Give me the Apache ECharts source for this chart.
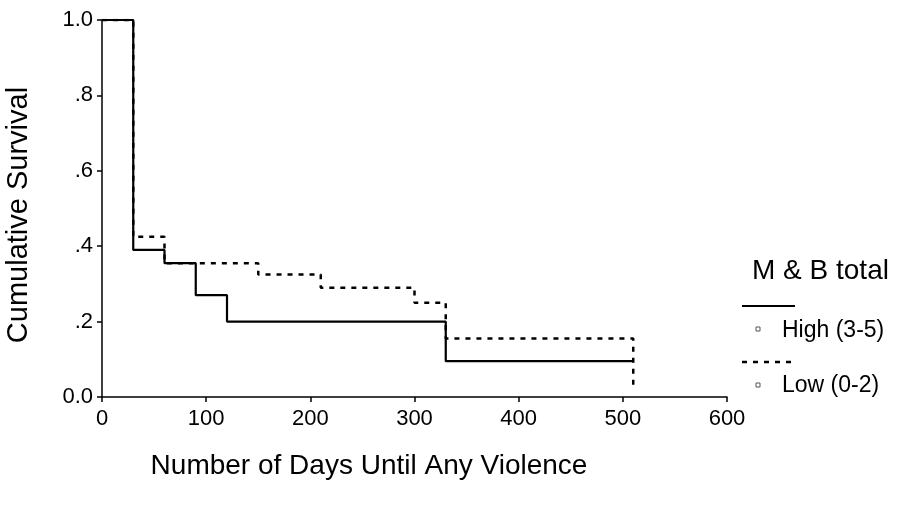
<!DOCTYPE html>
<html><head><meta charset="utf-8">
<script src="https://cdn.jsdelivr.net/npm/echarts@6/dist/echarts.min.js"></script>
<style>html,body{margin:0;padding:0;background:#fff}#c{width:899px;height:509px}</style>
</head><body><div id="c"></div>
<script>
// Kaplan-Meier step points [day, survival]
const highDays = [0, 30, 60, 90, 120, 330, 510];
const highSurv = [1.0, 0.39, 0.355, 0.27, 0.20, 0.095, 0.095];
const lowDays = [0, 30, 60, 150, 210, 300, 330, 510];
const lowSurv = [1.0, 0.425, 0.355, 0.325, 0.29, 0.25, 0.155, 0.025];
const xTicks = [0, 100, 200, 300, 400, 500, 600];
const yTickLabels = {0: '0.0', 0.2: '.2', 0.4: '.4', 0.6: '.6', 0.8: '.8', 1: '1.0'};
const legendTitle = 'M & B total';
const seriesNames = ['High (3-5)', 'Low (0-2)'];

const font = 'Liberation Sans';
const chart = echarts.init(document.getElementById('c'));
chart.setOption({
  animation: false,
  backgroundColor: '#fff',
  grid: {left: 102, right: 172, top: 20, bottom: 112, containLabel: false},
  xAxis: {
    type: 'value', min: 0, max: 600, interval: 100,
    axisLine: {lineStyle: {color: '#000', width: 1.5}},
    axisTick: {show: true, length: 5, lineStyle: {color: '#000', width: 1.5}},
    axisLabel: {color: '#000', fontFamily: font, fontSize: 22, margin: 11},
    splitLine: {show: false}
  },
  yAxis: {
    type: 'value', min: 0, max: 1, interval: 0.2,
    axisLine: {show: true, lineStyle: {color: '#000', width: 1.5}},
    axisTick: {show: true, length: 5, lineStyle: {color: '#000', width: 1.5}},
    axisLabel: {color: '#000', fontFamily: font, fontSize: 22, margin: 9,
      formatter: v => yTickLabels[Math.round(v * 10) / 10]},
    splitLine: {show: false}
  },
  series: [
    {name: seriesNames[0], type: 'line', step: 'end', symbol: 'none',
     lineStyle: {color: '#000', width: 2.2}, data: highDays.map((d, i) => [d, highSurv[i]])},
    {name: seriesNames[1], type: 'line', step: 'end', symbol: 'none',
     lineStyle: {color: '#000', width: 2.5, type: [5, 6]}, data: lowDays.map((d, i) => [d, lowSurv[i]])}
  ],
  graphic: [
    {type: 'text', x: 19, y: 215, rotation: Math.PI / 2,
     style: {text: 'Cumulative Survival', font: '29px ' + font, fill: '#000', textAlign: 'center', textVerticalAlign: 'middle'}},
    {type: 'text', x: 369, y: 466,
     style: {text: 'Number of Days Until Any Violence', font: '28px ' + font, fill: '#000', textAlign: 'center', textVerticalAlign: 'middle'}},
    {type: 'text', x: 752, y: 271,
     style: {text: legendTitle, font: '28px ' + font, fill: '#000', textAlign: 'left', textVerticalAlign: 'middle'}},
    {type: 'line', shape: {x1: 742, y1: 306, x2: 795, y2: 306}, style: {stroke: '#000', lineWidth: 2.2}},
    {type: 'rect', shape: {x: 756, y: 327, width: 4, height: 4}, style: {stroke: '#555', fill: '#fff', lineWidth: 1}},
    {type: 'text', x: 782, y: 331,
     style: {text: seriesNames[0], font: '23px ' + font, fill: '#000', textAlign: 'left', textVerticalAlign: 'middle'}},
    {type: 'line', shape: {x1: 742, y1: 362, x2: 794, y2: 362}, style: {stroke: '#000', lineWidth: 2.5, lineDash: [5, 6]}},
    {type: 'rect', shape: {x: 756, y: 383, width: 4, height: 4}, style: {stroke: '#555', fill: '#fff', lineWidth: 1}},
    {type: 'text', x: 782, y: 386,
     style: {text: seriesNames[1], font: '23px ' + font, fill: '#000', textAlign: 'left', textVerticalAlign: 'middle'}}
  ]
});
</script></body></html>
